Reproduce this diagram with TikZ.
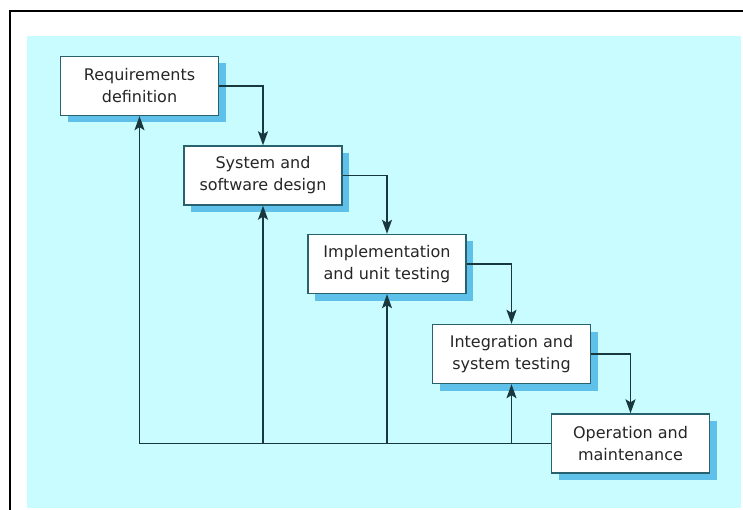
\documentclass[tikz,border=0pt]{standalone}
\usepackage{fontspec}
\setmainfont{DejaVu Sans}
\usetikzlibrary{arrows.meta,shadows}
\definecolor{bgcyan}{RGB}{200,252,255}
\definecolor{shadowblue}{RGB}{95,192,234}
\definecolor{edge}{RGB}{40,98,110}
\definecolor{wire}{RGB}{24,56,62}
\definecolor{ink}{RGB}{38,38,38}
\begin{document}
\begin{tikzpicture}[x=1pt,y=-1pt,
  phase/.style={draw=edge, line width=1.4pt, fill=white,
    minimum width=158pt, minimum height=59pt, inner sep=0pt,
    align=center, text=ink, font=\fontsize{16}{22}\selectfont,
    drop shadow={shadow xshift=7pt, shadow yshift=-7pt,
      fill=shadowblue, opacity=1}},
  wireline/.style={draw=wire, line width=1.6pt},
  flow/.style={wireline, -{Stealth[length=14pt,width=10pt,inset=3pt]}}]
  \useasboundingbox (0,0) rectangle (743,510);
  % page, tinted panel and frame
  \fill[white] (0,0) rectangle (743,510);
  \fill[bgcyan] (27,36) rectangle (741,508);
  \draw[line width=2pt] (10,510) -- (10,11.5) -- (743,11.5);

  % the five phases
  \node[phase] (req) at (139.5,86)   {Requirements\\definition};
  \node[phase] (des) at (263,175.5)  {System and\\software design};
  \node[phase] (imp) at (387,264)    {Implementation\\and unit testing};
  \node[phase] (int) at (511.5,354)  {Integration and\\system testing};
  \node[phase] (ops) at (630.5,443.5){Operation and\\maintenance};

  % forward cascade
  \draw[flow] (req.east) -| (des.north);
  \draw[flow] (des.east) -| (imp.north);
  \draw[flow] (imp.east) -| (int.north);
  \draw[flow] (int.east) -| (ops.north);

  % feedback from operation back to every earlier phase
  \draw[wireline] (ops.west) -- (ops.west -| req.south);
  \draw[flow] (ops.west -| req.south) -- (req.south);
  \draw[flow] (ops.west -| des.south) -- (des.south);
  \draw[flow] (ops.west -| imp.south) -- (imp.south);
  \draw[flow] (ops.west -| int.south) -- (int.south);
\end{tikzpicture}
\end{document}
